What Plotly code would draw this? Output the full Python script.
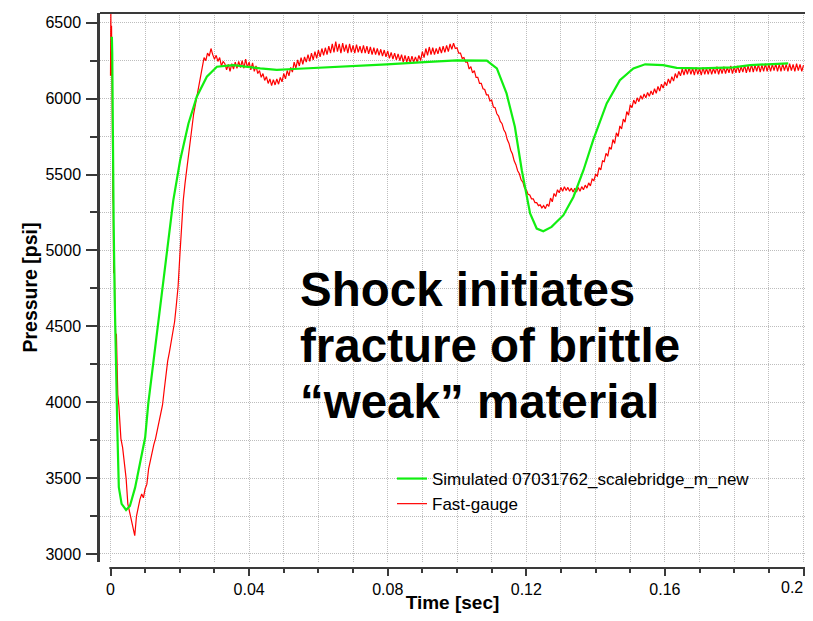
import plotly.graph_objects as go

# ---------------- data ----------------
green_t = [0.0, 0.0004, 0.0005, 0.0007, 0.0009, 0.0012, 0.0015, 0.0018, 0.0020, 0.0024,
           0.0032, 0.0045, 0.0056, 0.0071, 0.0085, 0.0100, 0.0109, 0.0119, 0.0128, 0.0138,
           0.0148, 0.0157, 0.0172, 0.0181, 0.0201, 0.0225, 0.0249, 0.0278, 0.0307, 0.0354,
           0.0432, 0.0480, 0.0528, 0.0595, 0.0691, 0.0797, 0.0893, 0.0999, 0.1086, 0.1115,
           0.1143, 0.1167, 0.1187, 0.1211, 0.1230, 0.1249, 0.1273, 0.1307, 0.1336, 0.1365,
           0.1393, 0.1432, 0.1470, 0.1509, 0.1543, 0.1595, 0.1634, 0.1701, 0.1797, 0.1846,
           0.1956]
green_p = [6400, 6400, 6300, 5600, 5200, 4700, 4300, 3990, 3790, 3440,
           3330, 3290, 3316, 3437, 3591, 3767, 3990, 4176, 4343, 4528,
           4714, 4881, 5160, 5326, 5594, 5836, 6012, 6144, 6210, 6221,
           6199, 6189, 6195, 6202, 6212, 6226, 6239, 6252, 6250, 6199,
           6034, 5814, 5528, 5243, 5144, 5126, 5155, 5232, 5352, 5528,
           5726, 5968, 6122, 6199, 6226, 6221, 6203, 6199, 6206, 6221,
           6232]

# fast gauge: first milliseconds (irregular samples)
red_t_start = [0.0000, 0.0001, 0.0002, 0.0003, 0.0004, 0.0005, 0.0006, 0.0007, 0.0008, 0.0009,
               0.0011, 0.0013, 0.0015, 0.0017, 0.0019, 0.0021, 0.0024, 0.0027]
red_p_start = [6150, 6560, 6150, 6480, 5700, 6000, 5650, 5350, 5300, 4850,
               4950, 4600, 4420, 4450, 4200, 4050, 3980, 3840]

# fast gauge: from 0.003 s on, one reading every 0.5 ms (each row = 10 ms)
red_sample_start = 0.003
red_sample_step = 0.0005
red_p_main = [
    3760, 3700, 3610, 3500, 3330, 3280, 3230, 3180, 3120, 3250, 3320, 3360, 3395, 3370, 3430, 3460, 3560, 3620, 3660, 3720,  # 0.003
    3760, 3810, 3870, 3920, 3980, 4080, 4200, 4270, 4330, 4390, 4450, 4530, 4640, 4760, 4960, 5180, 5330, 5440, 5540, 5640,  # 0.013
    5740, 5830, 5900, 5960, 6020, 6090, 6150, 6220, 6270, 6250, 6300, 6280, 6330, 6290, 6260, 6285, 6245, 6270, 6215, 6245,  # 0.023
    6230, 6190, 6225, 6180, 6230, 6195, 6240, 6200, 6245, 6205, 6250, 6200, 6260, 6205, 6240, 6190, 6235, 6180, 6215, 6165,  # 0.033
    6185, 6140, 6165, 6120, 6145, 6100, 6130, 6085, 6125, 6090, 6130, 6095, 6140, 6110, 6165, 6130, 6185, 6150, 6205, 6175,  # 0.043
    6240, 6200, 6255, 6215, 6270, 6225, 6275, 6240, 6290, 6245, 6300, 6255, 6310, 6265, 6320, 6275, 6330, 6285, 6335, 6290,  # 0.053
    6345, 6300, 6360, 6305, 6375, 6310, 6360, 6300, 6365, 6310, 6355, 6300, 6360, 6305, 6350, 6300, 6355, 6305, 6345, 6300,  # 0.063
    6350, 6300, 6345, 6295, 6340, 6290, 6335, 6290, 6330, 6285, 6325, 6280, 6320, 6275, 6315, 6265, 6305, 6260, 6300, 6255,  # 0.073
    6295, 6250, 6290, 6240, 6285, 6240, 6280, 6235, 6280, 6240, 6275, 6240, 6285, 6250, 6310, 6270, 6330, 6285, 6340, 6290,  # 0.083
    6335, 6290, 6330, 6295, 6340, 6300, 6345, 6305, 6350, 6310, 6360, 6325, 6365, 6330, 6335, 6300, 6300, 6265, 6270, 6240,  # 0.093
    6240, 6195, 6210, 6170, 6185, 6140, 6140, 6100, 6100, 6065, 6060, 6025, 6025, 5985, 5990, 5945, 5940, 5900, 5885, 5850,  # 0.103
    5835, 5795, 5775, 5730, 5705, 5660, 5635, 5590, 5565, 5525, 5505, 5465, 5450, 5410, 5400, 5370, 5365, 5340, 5340, 5315,  # 0.113
    5315, 5295, 5300, 5280, 5295, 5275, 5305, 5290, 5345, 5320, 5375, 5355, 5400, 5380, 5415, 5390, 5420, 5395, 5415, 5390,  # 0.123
    5410, 5385, 5410, 5385, 5415, 5390, 5420, 5400, 5430, 5410, 5445, 5425, 5470, 5460, 5500, 5490, 5545, 5530, 5590, 5585,  # 0.133
    5640, 5620, 5680, 5665, 5730, 5705, 5775, 5750, 5820, 5800, 5865, 5845, 5915, 5890, 5960, 5940, 5990, 5965, 6005, 5980,  # 0.143
    6020, 5995, 6030, 6005, 6040, 6015, 6050, 6025, 6065, 6035, 6080, 6050, 6095, 6070, 6110, 6085, 6130, 6100, 6145, 6115,  # 0.153
    6165, 6135, 6180, 6150, 6195, 6155, 6200, 6160, 6205, 6160, 6200, 6155, 6205, 6160, 6200, 6155, 6205, 6160, 6200, 6160,  # 0.163
    6205, 6160, 6200, 6165, 6210, 6160, 6205, 6165, 6210, 6165, 6205, 6170, 6215, 6165, 6210, 6170, 6215, 6170, 6210, 6175,  # 0.173
    6220, 6170, 6215, 6175, 6225, 6175, 6220, 6180, 6225, 6175, 6220, 6180, 6230, 6180, 6225, 6180, 6225, 6185, 6230, 6180,  # 0.183
    6225, 6180, 6230, 6185, 6225, 6180, 6230, 6185, 6225, 6180, 6230, 6185, 6225, 6180, 6220,                                # 0.193
]
red_t_main = [round(red_sample_start + i * red_sample_step, 5) for i in range(len(red_p_main))]

red_t = red_t_start + red_t_main
red_p = red_p_start + red_p_main

x_tick_vals = [0, 0.04, 0.08, 0.12, 0.16, 0.2]
x_tick_text = ["0", "0.04", "0.08", "0.12", "0.16", "0.2"]
y_tick_vals = [3000, 3500, 4000, 4500, 5000, 5500, 6000, 6500]

note_lines = ["Shock initiates", "fracture of brittle", "\u201cweak\u201d material"]

# ---------------- figure ----------------
# the page body adds an 8 px offset on every side, so the figure is drawn smaller
FONT = "Arial, 'Liberation Sans', Helvetica, sans-serif"
W, H = 797, 605
ML, MR, MT, MB = 92, 0, 5, 45
plot_w = W - ML - MR
plot_h = H - MT - MB
x0_off, x02_off = 10.5, 703.5       # t=0 and t=0.2, px from the left plot edge
px_per_t = (x02_off - x0_off) / 0.2
x_lo = -x0_off / px_per_t
x_hi = 0.2 + (plot_w - x02_off) / px_per_t

grid_col = "#bdbdbd"
axis_col = "#3a3a3a"

fig = go.Figure()
fig.add_trace(go.Scatter(x=red_t, y=red_p, mode="lines", name="Fast-gauge",
                         line=dict(color="#ff0000", width=1.2), legendrank=2))
fig.add_trace(go.Scatter(x=green_t, y=green_p, mode="lines",
                         name="Simulated 07031762_scalebridge_m_new",
                         line=dict(color="#11ee11", width=2.2), legendrank=1))

line_centers = [281, 337.5, 394]  # figure px
for line, yc in zip(note_lines, line_centers):
    fig.add_annotation(text=line, xref="paper", yref="paper",
                       x=(290 - ML) / plot_w, xanchor="left",
                       y=1 - (yc - MT) / plot_h, yanchor="middle",
                       showarrow=False,
                       font=dict(family=FONT, size=47.5, color="black", weight="bold"))

# the last time label sits at the very edge of the page: keep it inside
axis_labels_shown = x_tick_text[:-1] + [""]
fig.add_annotation(text=x_tick_text[-1], xref="paper", yref="paper",
                   x=1, xanchor="right", y=-19.5 / plot_h, yanchor="middle",
                   showarrow=False, font=dict(family=FONT, size=16, color="black"))

# top frame line
fig.add_shape(type="line", xref="paper", yref="paper", x0=0, x1=1, y0=1, y1=1,
              line=dict(color=axis_col, width=2))
# trim the detached time-axis line so it starts at t = 0
fig.add_shape(type="rect", xref="paper", yref="paper", layer="above",
              x0=-0.02, x1=(x0_off - 1.2) / plot_w, y0=-0.012, y1=0.006,
              line=dict(width=0), fillcolor="white")

y_dom0 = 6 / plot_h
fig.update_layout(
    width=W, height=H,
    margin=dict(l=ML, r=MR, t=MT, b=MB, pad=0),
    paper_bgcolor="white", plot_bgcolor="white",
    font=dict(family=FONT, color="black", size=16),
    showlegend=True,
    legend=dict(x=(384 - ML) / plot_w, y=1 - (453 - MT) / plot_h,
                xanchor="left", yanchor="top",
                bgcolor="rgba(0,0,0,0)", borderwidth=0,
                font=dict(family=FONT, size=17, color="black"),
                traceorder="normal"),
    xaxis=dict(domain=[0, 1], range=[x_lo, x_hi], anchor="free", position=0,
               showline=True, linecolor=axis_col, linewidth=2,
               ticks="outside", ticklen=7, tickwidth=1.5, tickcolor=axis_col,
               tickvals=x_tick_vals, ticktext=axis_labels_shown, ticklabelstandoff=0,
               tickfont=dict(family=FONT, size=16, color="black"),
               showgrid=True, gridcolor=grid_col, griddash="1px,1px", gridwidth=1,
               minor=dict(dtick=0.01, tick0=0, ticks="outside", ticklen=4,
                          tickwidth=1.5, tickcolor=axis_col, showgrid=True,
                          gridcolor=grid_col, griddash="1px,1px", gridwidth=1),
               zeroline=False,
               title=dict(text="<b>Time [sec]</b>", standoff=1,
                          font=dict(family=FONT, size=19, color="black"))),
    yaxis=dict(domain=[y_dom0, 1], range=[2947, 6564],
               showline=True, linecolor=axis_col, linewidth=2.5,
               ticks="outside", ticklen=11, tickwidth=1.5, tickcolor=axis_col,
               tickvals=y_tick_vals, ticklabelstandoff=2,
               tickfont=dict(family=FONT, size=16, color="black"),
               showgrid=True, gridcolor=grid_col, griddash="1px,1px", gridwidth=1,
               minor=dict(dtick=250, tick0=3000, ticks="outside", ticklen=7,
                          tickwidth=1.5, tickcolor=axis_col, showgrid=True,
                          gridcolor=grid_col, griddash="1px,1px", gridwidth=1),
               zeroline=False,
               title=dict(text="<b>Pressure [psi]</b>", standoff=3,
                          font=dict(family=FONT, size=19.5, color="black"))),
)

fig.write_html("out.html")
